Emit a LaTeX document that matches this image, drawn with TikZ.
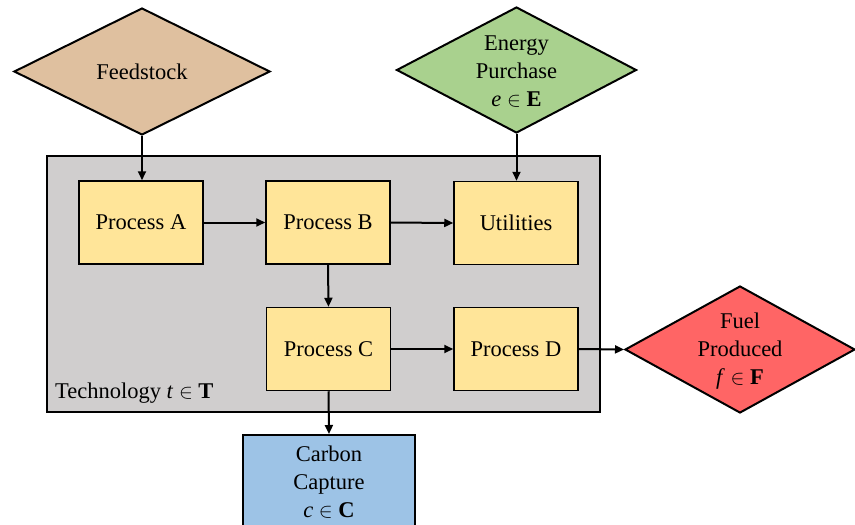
\documentclass[tikz,border=0pt]{standalone}
\usepackage{fontspec}
\setmainfont{Liberation Serif}
\usetikzlibrary{shapes.geometric,arrows.meta}

\definecolor{feedtan}{HTML}{DFC09F}
\definecolor{energygreen}{HTML}{A9D18E}
\definecolor{techgray}{HTML}{D0CECE}
\definecolor{procyellow}{HTML}{FFE599}
\definecolor{fuelred}{HTML}{FF6565}
\definecolor{carbonblue}{HTML}{9DC3E6}

\begin{document}
\begin{tikzpicture}[x=1pt,y=-1pt,
  lbl/.style={font=\fontsize{22.5}{28}\selectfont, align=center},
  techbox/.style={draw=black, line width=2pt, fill=techgray, inner sep=0pt},
  procbox/.style={draw=black, line width=1.5pt, fill=procyellow, inner sep=0pt,
    minimum width=124pt, minimum height=83pt, lbl},
  decision/.style={diamond, draw=black, line width=2pt, inner sep=0pt},
  flow/.style={line width=2pt, -{Triangle[length=9pt,width=8pt]}}
]
\useasboundingbox (0,0) rectangle (855,525);
\clip (0,0) rectangle (855,525);

% technology container
\node[techbox, minimum width=553pt, minimum height=256pt] (tech) at (323.5,284) {};
\node[lbl, anchor=west, inner sep=0pt] (techlabel) at (55,393)
  {Technology \textit{t} $\in$ \textbf{T}};

% process blocks
\node[procbox] (pa) at (141,222.5) {Process A};
\node[procbox] (pb) at (328,222.5) {Process B};
\node[procbox] (util) at (516,223) {Utilities};
\node[procbox] (pc) at (328.5,349) {Process C};
\node[procbox] (pd) at (516,349) {Process D};

% carbon capture output
\node[draw=black, line width=2pt, fill=carbonblue, inner sep=0pt,
  minimum width=172pt, minimum height=94pt, lbl] (carbon) at (329,482)
  {Carbon\\Capture\\\textit{c} $\in$ \textbf{C}};

% inputs and outputs
\node[decision, fill=feedtan, minimum width=256pt, minimum height=127pt,
  label={[lbl]center:Feedstock}] (feed) at (142,71.5) {};
\node[decision, fill=energygreen, minimum width=240pt, minimum height=126pt,
  label={[lbl, yshift=-2pt]center:Energy\\Purchase\\\textit{e} $\in$ \textbf{E}}] (energy) at (516.5,70) {};
\node[decision, fill=fuelred, minimum width=230pt, minimum height=127pt,
  label={[lbl, yshift=-2pt]center:Fuel\\Produced\\\textit{f} $\in$ \textbf{F}}] (fuel) at (740,349.5) {};

% connectors
\draw[flow] (feed.south) -- (feed.south |- pa.north);
\draw[flow] (energy.south) -- (energy.south |- util.north);
\draw[flow] (pa.east) -- (pb.west);
\draw[flow] (pb.east) -- (util.west);
\draw[flow] (pb.south) -- (pc.north);
\draw[flow] (pc.east) -- (pd.west);
\draw[flow] (pd.east) -- (fuel.west);
\draw[flow] (pc.south) -- (carbon.north);
\end{tikzpicture}
\end{document}
